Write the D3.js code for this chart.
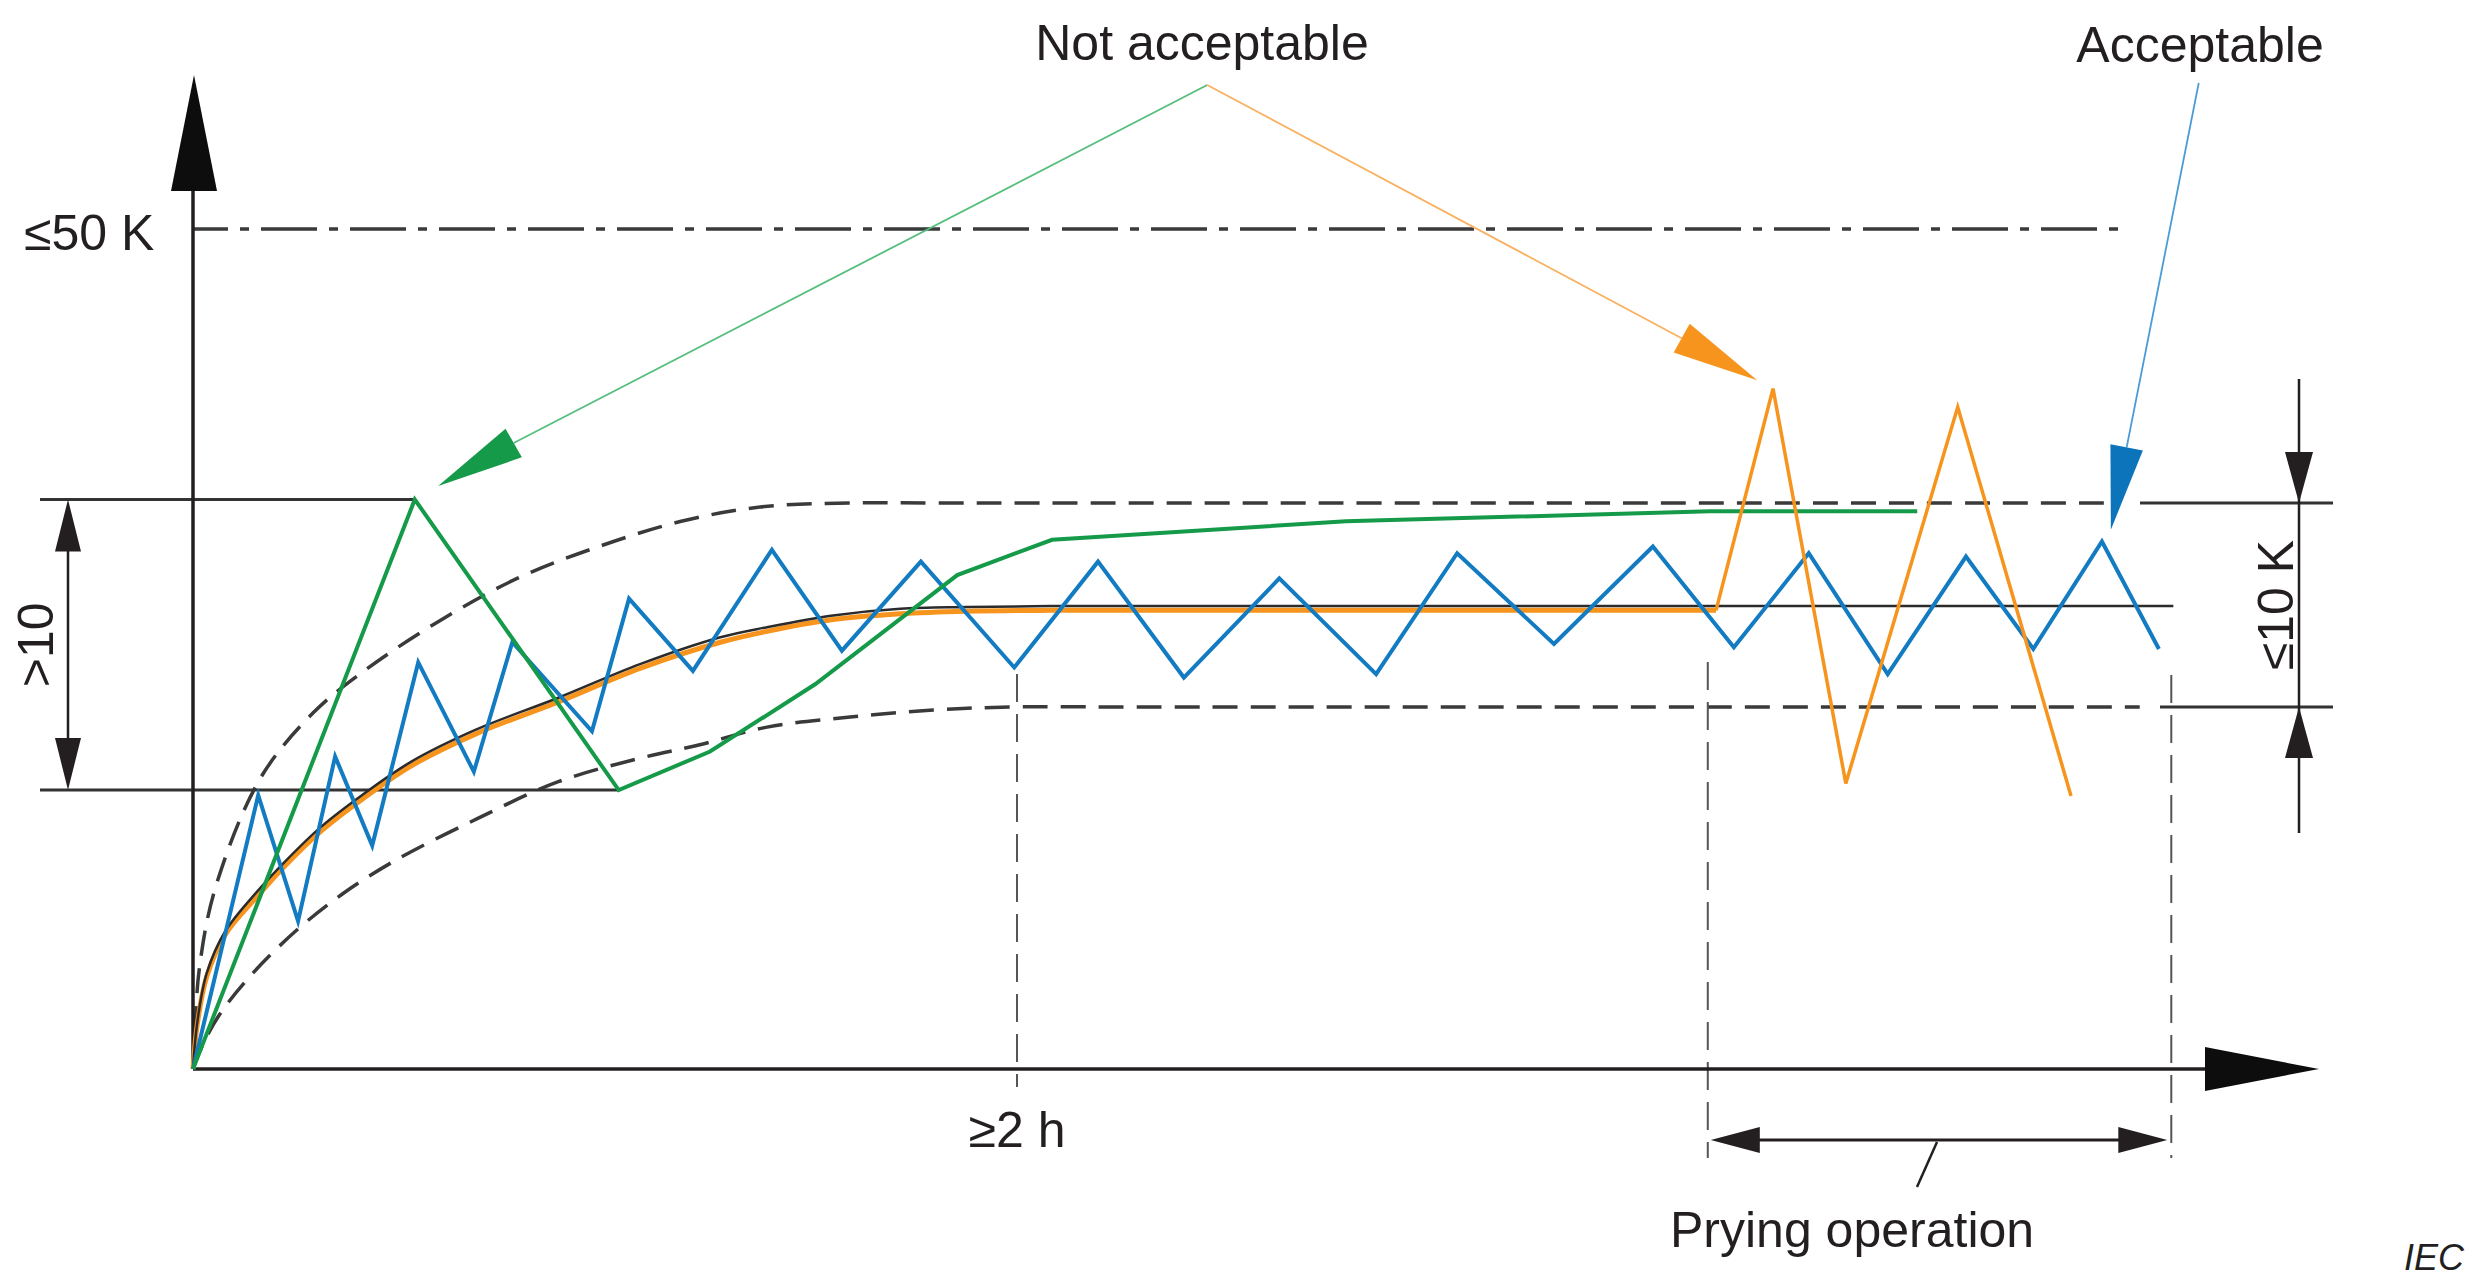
<!DOCTYPE html>
<html>
<head>
<meta charset="utf-8">
<script src="https://cdn.jsdelivr.net/npm/d3@7"></script>
<style>
  body { margin: 0; background: #fff; }
  svg text { font-family: "Liberation Sans", Arial, Helvetica, sans-serif; fill: #231f20; }
</style>
</head>
<body>
<div id="chart"></div>
<script>
// Temperature rise (K) against time (min) - schematic values

// steady state reference curve (black)
const refCurve = [[0,0],[0.6,2.7],[2.0,5.7],[4.7,8.2],[9.2,10.5],[13.4,12.35],[18.6,14.4],[24.6,16.3],[31.8,18.3],[41.2,20.2],[53.2,22.1],[65.1,24.1],[76.8,25.7],[83.6,26.3],[93.2,27.0],[103.0,27.4],[112.7,27.5],[124.8,27.56],[140,27.56],[270,27.56],[288.4,27.56]];

// orange: follows the curve, then swings during prying
const orangeCurve = [[0,0],[0.6,2.6],[2.0,5.5],[4.7,8.0],[9.2,10.2],[13.4,12.1],[18.6,14.15],[24.6,16.05],[31.8,18.05],[41.2,19.95],[53.2,21.85],[65.1,23.85],[76.8,25.4],[83.6,26.05],[93.2,26.75],[103.0,27.1],[112.7,27.25],[124.8,27.3],[140,27.3],[210,27.3],[221.8,27.3]];
const orangeZig = [[221.8,27.3],[230.1,40.5],[240.7,17.0],[257.0,39.4],[273.5,16.25]];

// green: overshoot then too high
const green = [[0,0],[32.3,33.9],[62.0,16.6],[75.3,18.9],[90.6,22.9],[111.3,29.4],[125.1,31.5],[167.9,32.6],[220.9,33.2],[251.1,33.2]];

// blue: acceptable oscillation
const blue = [[0,0],[9.5,16.3],[15.3,8.8],[20.7,18.6],[26.1,13.3],[32.8,24.2],[40.9,17.7],[46.5,25.4],[58.1,20.1],[63.5,28.0],[72.8,23.7],[84.3,30.9],[94.5,24.9],[106.0,30.2],[119.6,23.9],[131.8,30.2],[144.3,23.3],[158.2,29.2],[172.3,23.5],[184.1,30.7],[198.2,25.3],[212.6,31.1],[224.4,25.1],[235.3,30.7],[246.8,23.5],[258.2,30.5],[268.0,25.0],[278.0,31.4],[286.3,25.0]];

// tolerance band (dashed)
const upperBound = [[0,0],[0.3,2.3],[0.9,5.9],[3.2,10.7],[9.8,17.3],[17.5,21.2],[24.6,23.6],[35.4,26.55],[47.2,29.2],[59.1,31.1],[71.1,32.6],[82.6,33.45],[95.7,33.69],[110,33.69],[265,33.69],[280.6,33.69]];
const lowerBound = [[0,0],[1.2,1.25],[3.8,3.2],[8.6,5.65],[15.2,8.3],[21.7,10.4],[29.4,12.4],[41.4,14.9],[53.2,17.1],[65.1,18.5],[73.8,19.3],[83.6,20.35],[95.7,20.95],[107.8,21.37],[119.4,21.55],[135,21.55],[270,21.55],[283.5,21.55]];

// limits / marks
const limitK = 50;
const limitEnd = 281.1;
const twoHours = 120;
const pryStart = 220.6, pryEnd = 288.1;

const W = 2475, H = 1282;
const x = d3.scaleLinear().domain([0, 120]).range([193, 1017]);
const y = d3.scaleLinear().domain([0, 50]).range([1069, 229]);

const svg = d3.select("#chart").append("svg")
  .attr("width", W).attr("height", H);

const ink = "#231f20";
const cGreen = "#149a49", cOrange = "#f7941d", cBlue = "#137bc1";

const line = d3.line().x(d => x(d[0])).y(d => y(d[1]));
const smooth = d3.line().x(d => x(d[0])).y(d => y(d[1])).curve(d3.curveCatmullRom.alpha(0.5));

function head(tip, base, half) {
  const dx = tip[0] - base[0], dy = tip[1] - base[1];
  const len = Math.hypot(dx, dy);
  const nx = -dy / len * half, ny = dx / len * half;
  return [tip, [base[0] + nx, base[1] + ny], [base[0] - nx, base[1] - ny]];
}
function poly(pts, fill) {
  svg.append("polygon").attr("points", pts.map(p => p.join(",")).join(" ")).attr("fill", fill);
}
function seg(x1, y1, x2, y2, w, col, dash) {
  const l = svg.append("line").attr("x1", x1).attr("y1", y1).attr("x2", x2).attr("y2", y2)
    .attr("stroke", col).attr("stroke-width", w);
  if (dash) l.attr("stroke-dasharray", dash);
  return l;
}

// dash-dot limit line
seg(x(0), y(limitK), x(limitEnd), y(limitK), 3.5, "#3a3a3a", "56 12 9 12").attr("stroke-dashoffset", 21);

// band bounds
[upperBound, lowerBound].forEach(b => {
  svg.append("path").attr("d", smooth(b)).attr("fill", "none")
    .attr("stroke", "#3a3a3a").attr("stroke-width", 3.5).attr("stroke-dasharray", "25 13");
});

// vertical guide lines
seg(x(twoHours), 674, x(twoHours), 1087, 2, "#555", "28 12");
seg(x(pryStart), 662, x(pryStart), 1158, 2, "#555", "28 12");
seg(x(pryEnd), 675, x(pryEnd), 1158, 2, "#555", "28 12");

// >10 dimension
const gPeak = green[1], gValley = green[2];
seg(40, y(gPeak[1]), x(gPeak[0]), y(gPeak[1]), 3, "#333");
seg(40, y(gValley[1]), x(gValley[0]), y(gValley[1]), 3, "#333");
seg(68, y(gPeak[1]) + 40, 68, y(gValley[1]) - 40, 2.5, ink);
poly(head([68, y(gPeak[1])], [68, y(gPeak[1]) + 52], 13), ink);
poly(head([68, y(gValley[1])], [68, y(gValley[1]) - 52], 13), ink);
svg.append("text").attr("transform", `translate(53,${(y(gPeak[1]) + y(gValley[1])) / 2}) rotate(-90)`)
  .attr("text-anchor", "middle").attr("font-size", 50).text(">10");

// <=10 K dimension on the right
const bU = upperBound[upperBound.length - 1][1], bL = lowerBound[lowerBound.length - 1][1];
seg(2140, y(bU), 2333, y(bU), 3, "#333");
seg(2160, y(bL), 2333, y(bL), 3, "#333");
seg(2299, 379, 2299, 833, 2.5, ink);
poly(head([2299, y(bU)], [2299, y(bU) - 51], 14), ink);
poly(head([2299, y(bL)], [2299, y(bL) + 51], 14), ink);
svg.append("text").attr("transform", `translate(2293,${(y(bU) + y(bL)) / 2}) rotate(-90)`)
  .attr("text-anchor", "middle").attr("font-size", 50).text("≤10 K");

// axes
seg(x(0), y(0), x(0), 185, 3.5, ink);
poly(head([x(0) + 1, 75], [x(0) + 1, 191], 23), "#0d0d0d");
seg(x(0), y(0), 2210, y(0), 3.5, ink);
poly(head([2319, y(0)], [2205, y(0)], 22), "#0d0d0d");

// curves
svg.append("path").attr("d", smooth(orangeCurve)).attr("fill", "none")
  .attr("stroke", cOrange).attr("stroke-width", 5);
svg.append("path").attr("d", smooth(refCurve)).attr("fill", "none")
  .attr("stroke", "#2b2b2b").attr("stroke-width", 2.5);
svg.append("path").attr("d", line(blue)).attr("fill", "none")
  .attr("stroke", cBlue).attr("stroke-width", 4).attr("stroke-linejoin", "miter");
svg.append("path").attr("d", line(green)).attr("fill", "none")
  .attr("stroke", cGreen).attr("stroke-width", 4);
svg.append("path").attr("d", line(orangeZig)).attr("fill", "none")
  .attr("stroke", cOrange).attr("stroke-width", 3.5);

// prying operation dimension
seg(1740, 1140, 2140, 1140, 3, ink);
poly(head([x(pryStart) + 3, 1140], [x(pryStart) + 52, 1140], 13), ink);
poly(head([x(pryEnd) - 4, 1140], [x(pryEnd) - 53, 1140], 13), ink);
seg(1937, 1142, 1917, 1187, 2.5, ink);

// callouts
const callouts = [
  { from: [147.7, 58.57], tip: [35.7, 34.7], base: [46.7, 37.26], col: cGreen, thin: "#55be7c" },
  { from: [147.7, 58.57], tip: [227.8, 41.0], base: [216.8, 43.5], col: cOrange, thin: "#f9b060" },
  { from: [292.1, 58.7], tip: [279.3, 32.1], base: [281.6, 37.0], col: "#0b74bb", thin: "#4a9bd6" }
];
callouts.forEach(c => {
  const f = [x(c.from[0]), y(c.from[1])], t = [x(c.tip[0]), y(c.tip[1])], b = [x(c.base[0]), y(c.base[1])];
  seg(f[0], f[1], b[0], b[1], 1.8, c.thin);
  poly(head(t, b, 16.5), c.col);
});

// labels
const label = (txt, tx, ty, anchor) => svg.append("text").attr("x", tx).attr("y", ty)
  .attr("text-anchor", anchor).attr("font-size", 50).text(txt);
label("≤50 K", 24, 250, "start");
label("Not acceptable", 1202, 60, "middle");
label("Acceptable", 2200, 62, "middle");
label("≥2 h", x(twoHours), 1147, "middle");
label("Prying operation", 1670, 1247, "start");
svg.append("text").attr("x", 2464).attr("y", 1270).attr("text-anchor", "end")
  .attr("font-size", 36).attr("font-style", "italic").text("IEC");
</script>
</body>
</html>
